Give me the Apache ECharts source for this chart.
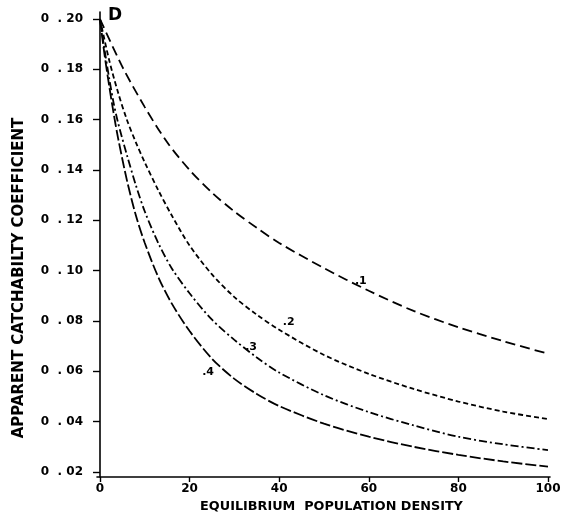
<!DOCTYPE html>
<html>
<head>
<meta charset="utf-8">
<script src="https://cdn.jsdelivr.net/npm/echarts@6/dist/echarts.min.js"></script>
<style>html,body{margin:0;padding:0;background:#fff;}#c{width:568px;height:526px;}</style>
</head>
<body>
<div id="c"></div>
<script>
// ---- data ----
var densityA = [0,5,10,15,20,25,30,35,40,50,60,70,80,90,100];
var densityB = [0,2,4,6,8,10,13,16,20,25,30,35,40,50,60,70,80,90,100];
var densityC = [0,1,2,3,4,6,8,10,13,16,20,25,30,35,40,50,60,70,80,90,100];

var curve1 = [0.200,0.181,0.165,0.151,0.140,0.131,0.1235,0.117,0.111,0.101,0.092,0.084,0.0775,0.072,0.067];
var curve2 = [0.200,0.184,0.171,0.160,0.151,0.143,0.132,0.122,0.110,0.0985,0.0895,0.0825,0.0765,0.0665,0.059,0.053,0.048,0.044,0.041];
var curve3 = [0.200,0.188,0.177,0.167,0.159,0.146,0.134,0.1235,0.111,0.101,0.091,0.0805,0.0725,0.0655,0.0595,0.0505,0.0438,0.0385,0.034,0.031,0.0287];
var curve4 = [0.200,0.186,0.174,0.163,0.153,0.136,0.122,0.111,0.0975,0.087,0.076,0.065,0.057,0.051,0.0462,0.0392,0.034,0.030,0.0268,0.0242,0.0221];

var curveNames = ['1','2','3','4'];
var labelPoints = [[56.9,0.0959],[40.8,0.0796],[32.4,0.0697],[22.8,0.0598]];

var xTicks = [0,20,40,60,80,100];
var yTicks = [0.02,0.04,0.06,0.08,0.10,0.12,0.14,0.16,0.18,0.20];

var xTitle = 'EQUILIBRIUM  POPULATION DENSITY';
var yTitle = 'APPARENT CATCHABILTY COEFFICIENT';
var panelLetter = 'D';

// ---- chart ----
function pairs(xs, ys){ return xs.map(function(x,i){ return [x, ys[i]]; }); }
var FONT = 'DejaVu Sans';
var dashes = [[10,5],[5,3],[8,3,2,3],[11,3]];
var seriesData = [pairs(densityA,curve1), pairs(densityB,curve2), pairs(densityC,curve3), pairs(densityC,curve4)];

var series = seriesData.map(function(d, i){
  return {
    type: 'line', name: curveNames[i], data: d, showSymbol: false,
    smooth: 0.3, silent: true,
    lineStyle: { color: '#000', width: 1.8, type: dashes[i] },
    markPoint: {
      symbol: 'circle', symbolSize: 0, silent: true,
      label: { show: true, position: 'right', distance: 0, formatter: '.' + curveNames[i],
               color: '#000', fontFamily: FONT, fontWeight: 'bold', fontSize: 11 },
      data: [{ coord: labelPoints[i] }]
    }
  };
});

var chart = echarts.init(document.getElementById('c'), null, { renderer: 'canvas' });
chart.setOption({
  animation: false,
  backgroundColor: '#fff',
  title: { text: panelLetter, left: 103, top: 2,
           textStyle: { fontFamily: FONT, fontWeight: 'bold', fontSize: 17, color: '#000' } },
  grid: { left: 97, right: 18, top: 12, bottom: 49 },
  xAxis: {
    type: 'value', min: -0.67, max: 100.45,
    name: xTitle, nameLocation: 'middle', nameGap: 22,
    nameTextStyle: { fontFamily: FONT, fontWeight: 'bold', fontSize: 12.8, color: '#000', padding: [0,0,0,16] },
    splitLine: { show: false },
    axisLine: { show: true, lineStyle: { color: '#000', width: 1.6 } },
    axisTick: { show: true, customValues: xTicks, length: 5, lineStyle: { color: '#000', width: 1.4 } },
    axisLabel: { customValues: xTicks, margin: 6, color: '#000', fontFamily: FONT, fontWeight: 'bold', fontSize: 12 }
  },
  yAxis: {
    type: 'value', min: 0.018, max: 0.2028,
    splitLine: { show: false },
    axisLine: { show: true, lineStyle: { color: '#000', width: 1.6 } },
    axisTick: { show: true, customValues: yTicks, length: 7, lineStyle: { color: '#000', width: 1.4 } },
    axisLabel: {
      customValues: yTicks, margin: 14, color: '#000', fontFamily: FONT, fontWeight: 'bold', fontSize: 12,
      formatter: function(v){ var n = Math.round(v*100); return '0  . ' + (n < 10 ? '0' + n : '' + n); }
    }
  },
  graphic: [{
    type: 'text', x: 19, y: 278, rotation: Math.PI/2,
    style: { text: yTitle, fill: '#000', font: 'bold 15px "DejaVu Sans"', textAlign: 'center', textVerticalAlign: 'middle' }
  }],
  series: series
});
</script>
</body>
</html>
